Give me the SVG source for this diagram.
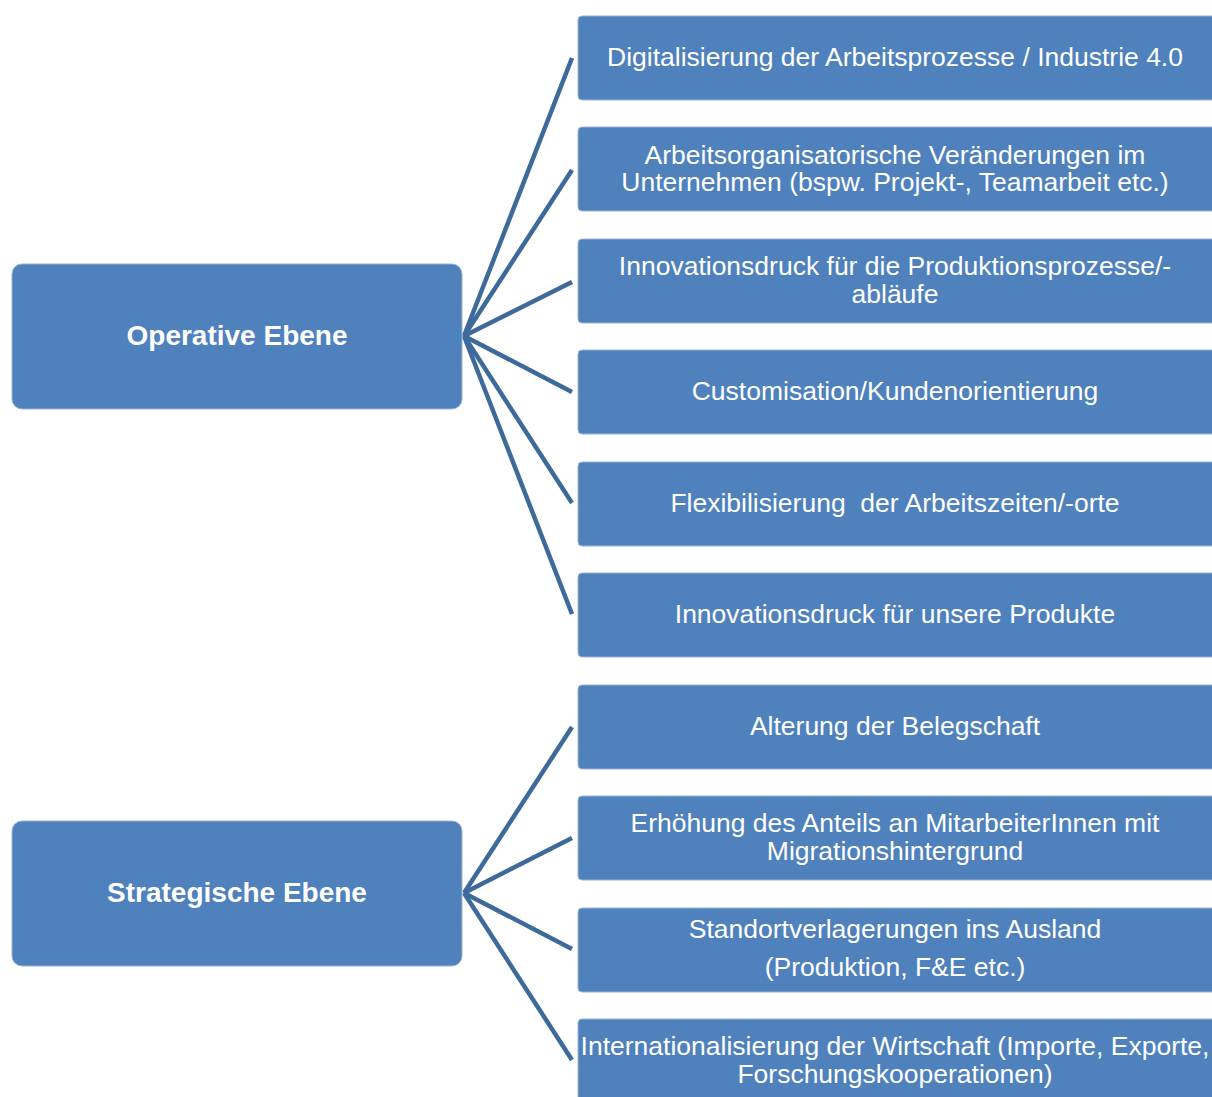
<svg xmlns="http://www.w3.org/2000/svg" width="1212" height="1097" viewBox="0 0 1212 1097">
<style>
.box{fill:#4f81bd;stroke:#9ab4d6;stroke-width:1}
.t{font-family:"Liberation Sans",Arial,sans-serif;font-size:26.5px;fill:#ffffff;text-anchor:middle}
.b{font-family:"Liberation Sans",Arial,sans-serif;font-size:28px;font-weight:bold;fill:#ffffff;text-anchor:middle}
.c line{stroke:#3e6a9a;stroke-width:4.5;stroke-linecap:butt}
</style>
<rect width="1212" height="1097" fill="#ffffff"/>
<g class="c" id="connectors">
<line x1="464" y1="336" x2="572" y2="58"/>
<line x1="464" y1="336" x2="572" y2="170"/>
<line x1="464" y1="336" x2="572" y2="282"/>
<line x1="464" y1="336" x2="572" y2="392"/>
<line x1="464" y1="336" x2="572" y2="503"/>
<line x1="464" y1="336" x2="572" y2="614"/>
<line x1="464" y1="893" x2="572" y2="727"/>
<line x1="464" y1="893" x2="572" y2="838"/>
<line x1="464" y1="893" x2="572" y2="949"/>
<line x1="464" y1="893" x2="572" y2="1060"/>
</g>
<g id="operative"><rect class="box" x="12" y="264" width="450" height="145" rx="10"/><text class="b" x="237" y="345">Operative Ebene</text></g>
<g id="strategische"><rect class="box" x="12" y="821" width="450" height="145" rx="10"/><text class="b" x="237" y="902">Strategische Ebene</text></g>
<g id="n1"><rect class="box" x="578" y="16" width="640" height="84" rx="4"/><text class="t" x="895" y="66">Digitalisierung der Arbeitsprozesse / Industrie 4.0</text></g>
<g id="n2"><rect class="box" x="578" y="127" width="640" height="84" rx="4"/><text class="t" x="895" y="164">Arbeitsorganisatorische Veränderungen im</text><text class="t" x="895" y="191">Unternehmen (bspw. Projekt-, Teamarbeit etc.)</text></g>
<g id="n3"><rect class="box" x="578" y="239" width="640" height="84" rx="4"/><text class="t" x="895" y="275">Innovationsdruck für die Produktionsprozesse/-</text><text class="t" x="895" y="303">abläufe</text></g>
<g id="n4"><rect class="box" x="578" y="350" width="640" height="84" rx="4"/><text class="t" x="895" y="400">Customisation/Kundenorientierung</text></g>
<g id="n5"><rect class="box" x="578" y="462" width="640" height="84" rx="4"/><text class="t" x="895" y="512" xml:space="preserve">Flexibilisierung  der Arbeitszeiten/-orte</text></g>
<g id="n6"><rect class="box" x="578" y="573" width="640" height="84" rx="4"/><text class="t" x="895" y="623">Innovationsdruck für unsere Produkte</text></g>
<g id="n7"><rect class="box" x="578" y="685" width="640" height="84" rx="4"/><text class="t" x="895" y="735">Alterung der Belegschaft</text></g>
<g id="n8"><rect class="box" x="578" y="796" width="640" height="84" rx="4"/><text class="t" x="895" y="832">Erhöhung des Anteils an MitarbeiterInnen mit</text><text class="t" x="895" y="860">Migrationshintergrund</text></g>
<g id="n9"><rect class="box" x="578" y="908" width="640" height="84" rx="4"/><text class="t" x="895" y="938">Standortverlagerungen ins Ausland</text><text class="t" x="895" y="976">(Produktion, F&amp;E etc.)</text></g>
<g id="n10"><rect class="box" x="578" y="1019" width="640" height="84" rx="4"/><text class="t" x="895" y="1055">Internationalisierung der Wirtschaft (Importe, Exporte,</text><text class="t" x="895" y="1083">Forschungskooperationen)</text></g>
</svg>
